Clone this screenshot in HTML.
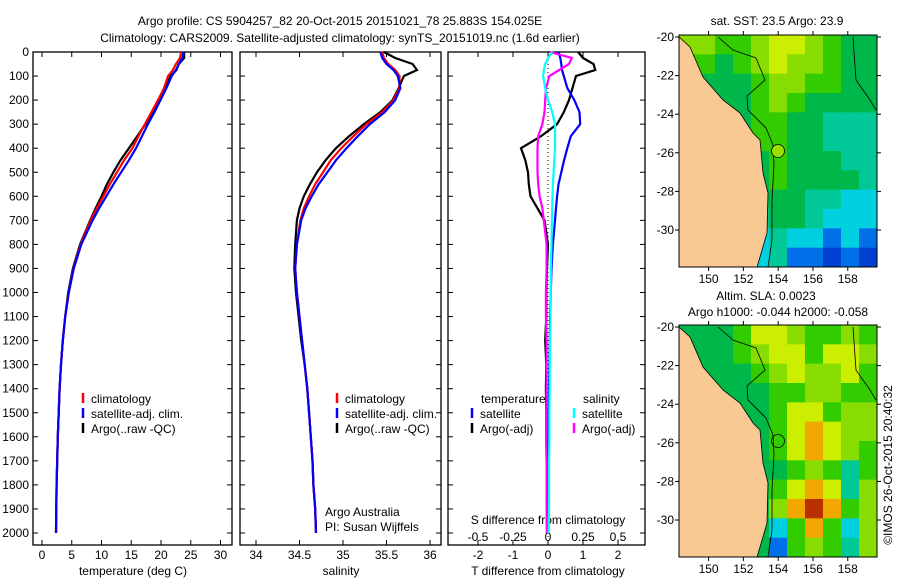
<!DOCTYPE html>
<html><head><meta charset="utf-8"><style>
body{margin:0;background:#fff;}
svg{display:block;font-family:"Liberation Sans",sans-serif;font-size:12px;}
</style></head><body>
<svg id="fig" width="900" height="580" viewBox="0 0 900 580">
<text x="340" y="25" text-anchor="middle">Argo profile: CS 5904257_82 20-Oct-2015 20151021_78 25.883S 154.025E</text>
<text x="340" y="42" text-anchor="middle">Climatology: CARS2009. Satellite-adjusted climatology: synTS_20151019.nc (1.6d earlier)</text>
<text x="777" y="25" text-anchor="middle">sat. SST: 23.5 Argo: 23.9</text>
<text x="766" y="300" text-anchor="middle">Altim. SLA: 0.0023</text>
<text x="778" y="316" text-anchor="middle">Argo h1000: -0.044 h2000: -0.058</text>
<text transform="translate(892,465) rotate(-90)" text-anchor="middle">©IMOS 26-Oct-2015 20:40:32</text>
<text x="325" y="516">Argo Australia</text>
<text x="325" y="531">PI: Susan Wijffels</text>
<text x="548" y="524" text-anchor="middle">S difference from climatology</text>
<text x="548" y="575" text-anchor="middle">T difference from climatology</text>
<text x="133" y="575" text-anchor="middle">temperature (deg C)</text>
<text x="341" y="575" text-anchor="middle">salinity</text>
</svg>
<script>
// ---- data ----
const depths = [0,25,50,75,100,150,200,250,300,350,400,450,500,550,600,650,700,800,900,1000,1100,1200,1300,1400,1500,1600,1700,1800,1900,2000];
const tempClim = [23.4,23.2,22.5,22.0,21.2,20.5,19.5,18.4,17.3,16.2,15.2,13.8,12.6,11.4,10.3,9.2,8.2,6.5,5.3,4.5,3.9,3.5,3.2,2.95,2.8,2.65,2.55,2.45,2.4,2.35];
const tempSat = [23.8,23.6,23.0,22.5,21.8,20.9,19.9,18.9,17.8,16.8,15.8,14.6,13.3,12.0,10.8,9.6,8.5,6.6,5.35,4.5,3.9,3.5,3.2,2.95,2.8,2.65,2.55,2.45,2.4,2.35];
const tempArgo = [23.9,23.9,23.0,22.6,21.6,20.8,19.9,18.6,17.4,16.0,14.6,13.2,12.0,10.9,10.0,9.0,8.1,6.4,5.2,4.4,3.9,3.5,3.2,2.95,2.8,2.65,2.55,2.45,2.4,2.35];
const salClim = [35.45,35.47,35.52,35.6,35.65,35.65,35.58,35.45,35.27,35.12,34.98,34.86,34.77,34.68,34.61,34.55,34.51,34.47,34.45,34.47,34.5,34.53,34.56,34.59,34.61,34.63,34.65,34.66,34.68,34.69];
const salSat = [35.43,35.45,35.5,35.58,35.63,35.66,35.6,35.48,35.31,35.17,35.04,34.92,34.82,34.72,34.64,34.57,34.52,34.47,34.45,34.47,34.5,34.53,34.56,34.59,34.61,34.63,34.65,34.66,34.68,34.69];
const salArgo = [35.47,35.6,35.8,35.85,35.7,35.64,35.57,35.43,35.24,35.07,34.92,34.8,34.7,34.62,34.55,34.5,34.47,34.45,34.44,34.46,34.49,34.52,34.56,34.59,34.61,34.63,34.65,34.66,34.68,34.69];
const dTsat = [0.3,0.35,0.38,0.4,0.45,0.55,0.75,0.9,0.92,0.65,0.55,0.46,0.38,0.3,0.26,0.23,0.2,0.14,0.1,0.08,0.06,0.05,0.04,0.03,0.02,0.02,0.01,0.01,0.0,0.0];
const dTargo = [0.86,1.0,1.3,1.35,0.8,0.7,0.6,0.45,0.26,-0.2,-0.77,-0.65,-0.57,-0.55,-0.5,-0.3,-0.1,0.0,-0.03,-0.05,-0.05,-0.08,-0.05,-0.06,-0.05,-0.05,-0.04,-0.04,-0.03,-0.03];
const dSsat = [0.03,0.0,-0.02,-0.03,-0.035,-0.02,0.0,0.03,0.05,0.05,0.05,0.045,0.04,0.035,0.032,0.03,0.028,0.025,0.02,0.02,0.018,0.015,0.013,0.012,0.01,0.01,0.008,0.008,0.007,0.006];
const dSargo = [0.014,0.17,0.15,0.08,0.01,-0.014,-0.02,-0.025,-0.04,-0.07,-0.075,-0.075,-0.075,-0.07,-0.06,-0.04,-0.03,-0.01,-0.01,-0.015,-0.015,-0.01,-0.01,-0.01,-0.012,-0.012,-0.01,-0.01,-0.01,-0.008];
const depthTicks = [0,100,200,300,400,500,600,700,800,900,1000,1100,1200,1300,1400,1500,1600,1700,1800,1900,2000];
const tempTicks = [0,5,10,15,20,25,30];
const salTicks = [34,34.5,35,35.5,36];
const salTickLabels = ["34","34.5","35","35.5","36"];
const tdTicks = [-2,-1,0,1,2];
const sdTicks = [-0.5,-0.25,0,0.25,0.5];
const sdTickLabels = ["-0.5","-0.25","0","0.25","0.5"];
const lonTicks = [150,152,154,156,158];
const latTicks = [-20,-22,-24,-26,-28,-30];
const sstGrid = ["LLGGLYYLGDD","GGDGLYLLGDD","DDDDGLLGGDD","DDDDGLGDDDD","DDDDGGDDTTT","DDDDGGDDTTT","DDDDDGDDDTT","DDDDDGDDDDT","DDDDDDDTTCC","DDDDTDDTCCC","DDDDCTCCBCB","DDDDCTBBNBN"];
const slaGrid = ["DDDGYYLGGLG","DDDGLYYGYYL","DDDDGLYLLYG","DDDDDGGLLGG","DDDDDGYYGLL","DDDDDGYOYLL","DDDDDGYOYLG","DDDDDDGLGTG","DDDDDGYOYTL","DDDDDLOEOGL","DDDDDCGOGCL","DDDDDBGLGTL"];

const NS="http://www.w3.org/2000/svg";
const svg=document.getElementById('fig');
function mk(tag,attrs,parent){const e=document.createElementNS(NS,tag);for(const k in attrs)e.setAttribute(k,attrs[k]);(parent||svg).appendChild(e);return e;}
const yD = d => 52 + d*0.2405;
const xT = t => 42 + t*5.95;
const xS = s => 256 + (s-34)*87;
const xTd = t => 548 + t*35;
const xSd = s => 548 + s*140;
const panels=[{x0:33,x1:232},{x0:240,x1:441},{x0:448,x1:645}];
const Y0=52,Y1=545;

panels.forEach((p,i)=>{
  const r=mk('rect',{x:p.x0,y:Y0,width:p.x1-p.x0,height:Y1-Y0,fill:'none',stroke:'#000','stroke-width':1.3});
  
  
  depthTicks.forEach(d=>{
    mk('line',{x1:p.x0,x2:p.x0+5,y1:yD(d),y2:yD(d),stroke:'#000'});
    mk('line',{x1:p.x1,x2:p.x1-5,y1:yD(d),y2:yD(d),stroke:'#000'});
  });
});
depthTicks.forEach(d=>{
  const t=mk('text',{x:29,y:yD(d)+4,'text-anchor':'end'});t.textContent=d;
  
  
});
function xticks(vals,labels,fx,ly,top){
  vals.forEach((v,i)=>{
    const x=fx(v);
    mk('line',{x1:x,x2:x,y1:Y1,y2:Y1-5,stroke:'#000'});
    if(top) mk('line',{x1:x,x2:x,y1:Y0,y2:Y0+5,stroke:'#000'});
    const t=mk('text',{x:x,y:ly,'text-anchor':'middle'});t.textContent=labels[i];
    
    
  });
}
xticks(tempTicks,tempTicks.map(String),xT,559,true);
xticks(salTicks,salTickLabels,xS,559,true);
xticks(tdTicks,tdTicks.map(String),xTd,559,true);
sdTicks.forEach((v,i)=>{const t=mk('text',{x:xSd(v),y:541,'text-anchor':'middle'});t.textContent=sdTickLabels[i];
  
  });

// zero dotted line
const zl=mk('line',{x1:xTd(0),x2:xTd(0),y1:Y0,y2:Y1,stroke:'#000','stroke-dasharray':'1,3'});



function series(vals,fx,color,name){
  const pts=vals.map((v,i)=>fx(v).toFixed(1)+','+yD(depths[i]).toFixed(1)).join(' ');
  const pl=mk('polyline',{points:pts,fill:'none',stroke:color,'stroke-width':2.2,'stroke-linejoin':'miter'});
  
  
}
series(tempArgo,xT,'#000','temp-argo-line');
series(tempClim,xT,'#ff0000','temp-clim-line');
series(tempSat,xT,'#0000ff','temp-sat-line');
series(salArgo,xS,'#000','sal-argo-line');
series(salClim,xS,'#ff0000','sal-clim-line');
series(salSat,xS,'#0000ff','sal-sat-line');
series(dTargo,xTd,'#000','tdiff-argo-line');
series(dTsat,xTd,'#0000ff','tdiff-sat-line');
series(dSargo,xSd,'#ff00ff','sdiff-argo-line');
series(dSsat,xSd,'#00ffff','sdiff-sat-line');

function legend(x,y,items,name){
  items.forEach((it,i)=>{
    mk('line',{x1:x,x2:x,y1:y+i*15-10,y2:y+i*15,stroke:it[0],'stroke-width':2.5});
    const t=mk('text',{x:x+8,y:y+i*15});t.textContent=it[1];
    
    
  });
}
legend(83,403,[['#ff0000','climatology'],['#0000ff','satellite-adj. clim.'],['#000','Argo(..raw -QC)']],'temp-legend');
legend(337,403,[['#ff0000','climatology'],['#0000ff','satellite-adj. clim.'],['#000','Argo(..raw -QC)']],'sal-legend');
const lt=mk('text',{x:481,y:403});lt.textContent='temperature';


const ls=mk('text',{x:583,y:403});ls.textContent='salinity';


legend(472,418,[['#0000ff','satellite'],['#000','Argo(-adj)']],'tdiff-legend');
legend(574,418,[['#00ffff','satellite'],['#ff00ff','Argo(-adj)']],'sdiff-legend');

// ---- maps ----
const pal={Y:'#ccee00',L:'#88dd00',G:'#33cc00',D:'#00b84a',T:'#00c896',C:'#00d0e0',B:'#0070e8',N:'#0040d0',O:'#f0a800',E:'#b83000'};
function map(top,grid,name){
  const x0=679,x1=877,y0=top,y1=top+232;
  const lonX=l=>679+(l-148.3)*17.4, latY=a=>top+2+(-20-a)*19.3;
  const g=mk('g',{});
  
  
  const cw=(x1-x0)/11,ch=(y1-y0)/12;
  grid.forEach((row,r)=>{[...row].forEach((c,k)=>{
    const cell=mk('rect',{x:x0+k*cw,y:y0+r*ch,width:cw+0.5,height:ch+0.5,fill:pal[c]},g);
    
    
  });});
  const o=top-35;
  const coast=[[679,37],[690,47],[703,77],[723,100],[740,113],[753,133],[760,140],[763,173],[768,193],[767,233],[760,257],[757,267]];
  const land=mk('polygon',{points:coast.map(p=>p[0]+','+(p[1]+o)).join(' ')+' '+x0+','+y1,fill:'#f9c994',stroke:'#000','stroke-width':0.8},g);
  
  
  const shelf=[[718,37],[733,50],[756,58],[765,80],[747,96],[748,110],[766,128],[773,145],[774,165],[772,200],[772,240],[768,267]];
  mk('polyline',{points:shelf.map(p=>p[0]+','+(p[1]+o)).join(' '),fill:'none',stroke:'#000','stroke-width':0.8},g);
  mk('polyline',{points:`853,${37+o} 856,${80+o} 870,${100+o} 876,${110+o}`,fill:'none',stroke:'#000','stroke-width':0.8},g);
  const circ=mk('circle',{cx:778,cy:151+o,r:6.5,fill:top<100?'#99e000':'none',stroke:'#000','stroke-width':0.8},g);
  
  
  mk('rect',{x:x0,y:y0,width:x1-x0,height:y1-y0,fill:'none',stroke:'#000','stroke-width':1},g);
  lonTicks.forEach(l=>{
    mk('line',{x1:lonX(l),x2:lonX(l),y1:y0,y2:y0-4,stroke:'#000'});
    mk('line',{x1:lonX(l),x2:lonX(l),y1:y1,y2:y1+4,stroke:'#000'});
    const t=mk('text',{x:lonX(l),y:y1+16,'text-anchor':'middle'},g);t.textContent=l;
    
    
  });
  latTicks.forEach(a=>{
    mk('line',{x1:x0,x2:x0-4,y1:latY(a),y2:latY(a),stroke:'#000'});
    mk('line',{x1:x1,x2:x1+4,y1:latY(a),y2:latY(a),stroke:'#000'});
    const t=mk('text',{x:674,y:latY(a)+4,'text-anchor':'end'},g);t.textContent=a;
    
    
  });
}
map(35,sstGrid,'sst-map');
map(325,slaGrid,'sla-map');
</script>
</body></html>
